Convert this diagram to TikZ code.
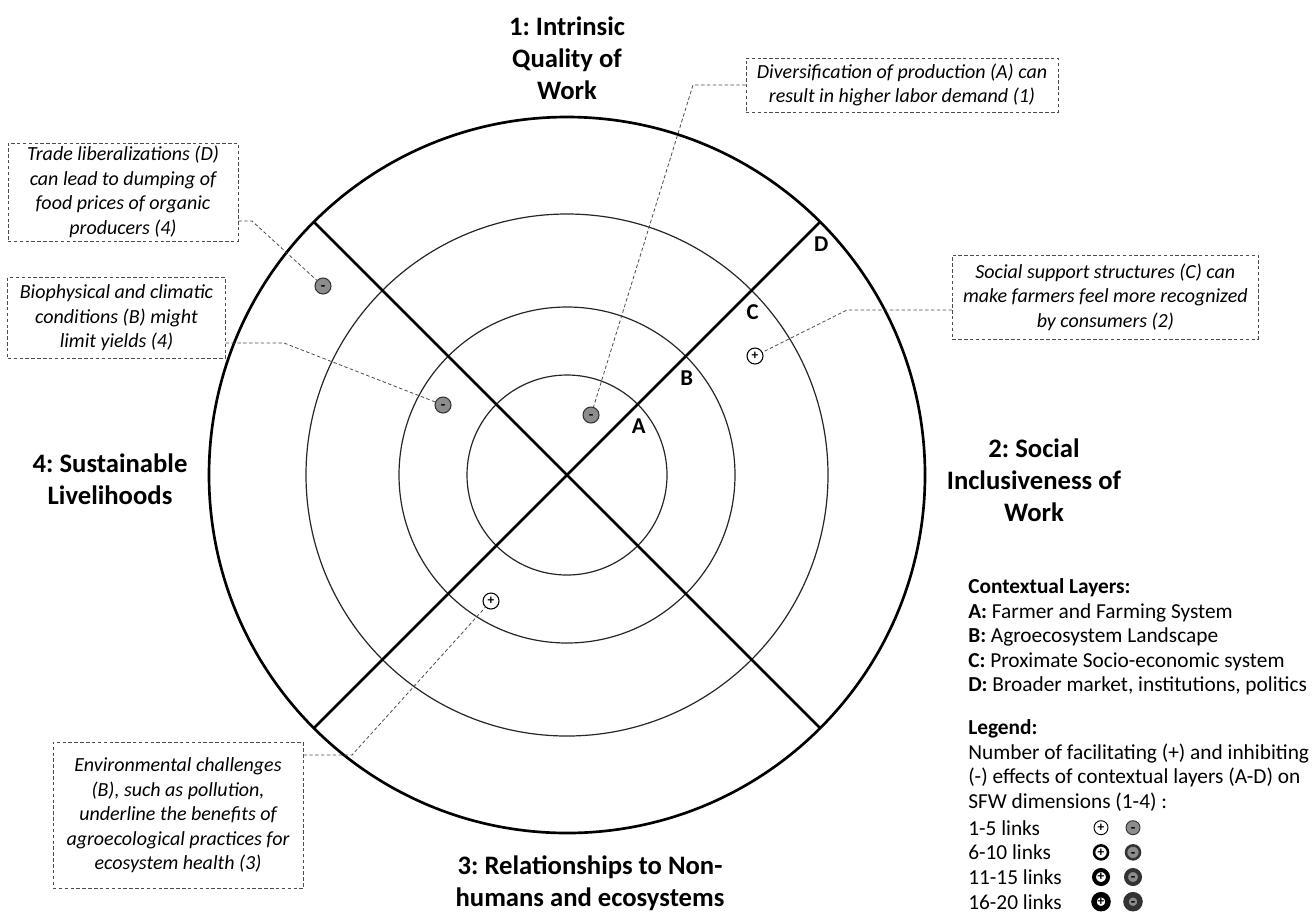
\documentclass[tikz,border=0pt]{standalone}
\usepackage{fontspec}
\setmainfont{Carlito}
\usetikzlibrary{calc, positioning}
\frenchspacing

\tikzset{
  heading/.style={font=\bfseries\fontsize{20}{24}\selectfont, align=center},
  note/.style={draw=black!70, dash pattern=on 2.6pt off 1.8pt, line width=0.6pt,
    font=\itshape\fontsize{15}{18.4}\selectfont, align=center, inner sep=0pt},
  link/.style={draw=black!70, dash pattern=on 2.6pt off 1.8pt, line width=0.6pt},
  ring/.style={line width=0.9pt, draw=black!85},
  axis/.style={line width=2pt},
  layer/.style={font=\bfseries\fontsize{17}{17}\selectfont},
  negmark/.style={circle, draw=black!80, fill=black!45, line width=0.8pt, minimum size=12pt,
    inner sep=0pt, text height=7pt, text depth=0pt, font=\bfseries\fontsize{11}{11}\selectfont},
  posmark/.style={circle, draw=black, fill=white, line width=0.8pt, minimum size=12pt,
    inner sep=0pt, font=\bfseries\fontsize{10}{10}\selectfont},
  legtext/.style={font=\fontsize{16}{18.4}\selectfont, align=left, inner sep=0pt}
}

\begin{document}
\begin{tikzpicture}[x=0.75pt, y=-0.75pt]
\useasboundingbox (0,0) rectangle (1312,915);

% wheel %
\coordinate (ctr) at (567,475);
\draw[ring] (ctr) circle[radius=75pt];
\draw[ring] (ctr) circle[radius=126pt];
\draw[ring] (ctr) circle[radius=195.75pt];
\draw[axis] (ctr) circle[radius=268.5pt];
\draw[axis] ($(ctr)+(135:358)$) -- ($(ctr)+(-45:358)$);
\draw[axis] ($(ctr)+(45:358)$) -- ($(ctr)+(225:358)$);

\foreach \r/\lab in {100/A, 168/B, 261/C, 358/D}
  \node[layer] (lay\lab) at ($(ctr)+(-45:\r)+(1,22)$) {\lab};

% dimensions %
\node[heading] (dim1) at (567,58) {1: Intrinsic\\Quality of\\Work};
\node[heading] (dim2) at (1034,480) {2: Social\\Inclusiveness of\\Work};
\node[heading] (dim3) at (590,883) {3: Relationships to Non-\\humans and ecosystems};
\node[heading] (dim4) at (110,479) {4: Sustainable\\Livelihoods};

% effects %
\node[negmark] (mTrade) at (323,286) {-};
\node[negmark] (mBio) at (443,405) {-};
\node[negmark] (mDiv) at (591,415) {-};
\node[posmark] (mSoc) at (755,356) {+};
\node[posmark] (mEnv) at (491,601) {+};

% notes %
\node[note, minimum width=234pt, minimum height=40.5pt] (nDiv) at (902,85)
  {Diversification of production (A) can\\result in higher labor demand (1)};
\node[note, minimum width=172.5pt, minimum height=73.5pt] (nTrade) at (123,192)
  {Trade liberalizations (D)\\can lead to dumping of\\food prices of organic\\producers (4)};
\node[note, minimum width=163pt, minimum height=61pt] (nBio) at (116.5,318)
  {Biophysical and climatic\\conditions (B) might\\limit yields (4)};
\node[note, minimum height=63pt, inner xsep=8pt, anchor=west] (nSoc) at (952,297)
  {Social support structures (C) can\\make farmers feel more recognized\\by consumers (2)};
\node[note, minimum width=187.5pt, minimum height=110pt] (nEnv) at (178,815.5)
  {Environmental challenges\\(B), such as pollution,\\underline the benefits of\\agroecological practices for\\ecosystem health (3)};

\coordinate (kDiv) at (693,85);
\coordinate (kTrade) at (252,221);
\coordinate (kBio) at (284,343);
\coordinate (kSoc) at (847,310);
\coordinate (kEnv) at (352,755);
\draw[link] (nDiv.west) -- (kDiv) -- (mDiv);
\draw[link] (nTrade.east |- kTrade) -- (kTrade) -- (mTrade);
\draw[link] (nBio.east |- kBio) -- (kBio) -- (mBio);
\draw[link] (nSoc.west |- kSoc) -- (kSoc) -- (mSoc);
\draw[link] (nEnv.east |- kEnv) -- (kEnv) -- (mEnv);

% legend %
\node[legtext, anchor=west] (layers) at (968,637)
  {\textbf{Contextual Layers:}\\\textbf{A:} Farmer and Farming System\\\textbf{B:} Agroecosystem Landscape\\\textbf{C:} Proximate Socio-economic system\\\textbf{D:} Broader market, institutions, politics};
\node[legtext, anchor=west] (legend) at (968,765.5)
  {\textbf{Legend:}\\Number of facilitating (+) and inhibiting\\(-) effects of contextual layers (A-D) on\\SFW dimensions (1-4) :};
\foreach \w/\lab [count=\i] in {0.7/1-5, 1.9/6-10, 3/11-15, 4.1/16-20}{
  \node[legtext, anchor=west] (row\i) at (968,{803+24.67*\i}) {\lab{} links};
  \node[posmark, minimum size=10.5pt, line width=\w pt] (lp\i) at (1101,{803+24.67*\i}) {+};
  \node[negmark, minimum size=10.5pt, line width=\w pt] (ln\i) at (1133,{803+24.67*\i}) {-};
}
\end{tikzpicture}
\end{document}
